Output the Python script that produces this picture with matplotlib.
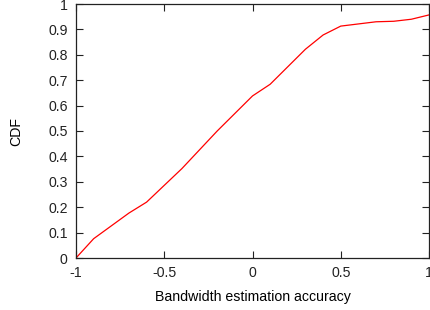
import matplotlib
matplotlib.use("Agg")
import matplotlib.pyplot as plt

x_vals = [-1.0, -0.9, -0.7, -0.6, -0.4, -0.2, 0.0, 0.1, 0.2, 0.3, 0.4, 0.5, 0.7, 0.8, 0.9, 1.0]
cdf_vals = [0.0, 0.076, 0.177, 0.220, 0.352, 0.500, 0.638, 0.684, 0.753, 0.822, 0.878, 0.913, 0.930, 0.932, 0.940, 0.957]
x_ticks = [-1, -0.5, 0, 0.5, 1]
x_tick_labels = ["-1", "-0.5", "0", "0.5", "1"]
y_ticks = [0, 0.1, 0.2, 0.3, 0.4, 0.5, 0.6, 0.7, 0.8, 0.9, 1]
y_tick_labels = ["0", "0.1", "0.2", "0.3", "0.4", "0.5", "0.6", "0.7", "0.8", "0.9", "1"]

plt.rcParams['font.family'] = ['Liberation Sans', 'DejaVu Sans']
fig = plt.figure(figsize=(4.31, 3.10), dpi=100)
W, H = 431, 310
left, right, top, bottom = 76, 429, 4, 258
ax = fig.add_axes([left / W, 1 - bottom / H, (right - left) / W, (bottom - top) / H])

ax.plot(x_vals, cdf_vals, color='#ff0000', linewidth=0.9)
ax.set_xlim(-1, 1)
ax.set_ylim(0, 1)
ax.set_xticks(x_ticks)
ax.set_xticklabels(x_tick_labels)
ax.set_yticks(y_ticks)
ax.set_yticklabels(y_tick_labels)
ax.tick_params(direction='in', length=5, width=0.8, top=True, right=True,
               labelsize=10.2, colors='#222222', pad=6)
for s in ax.spines.values():
    s.set_linewidth(0.9)
    s.set_color('#222222')
ax.set_xlabel("Bandwidth estimation accuracy", fontsize=10.2, labelpad=7)
ax.set_ylabel("CDF", fontsize=10.2, labelpad=17.5)

fig.savefig("out.png", dpi=100)
